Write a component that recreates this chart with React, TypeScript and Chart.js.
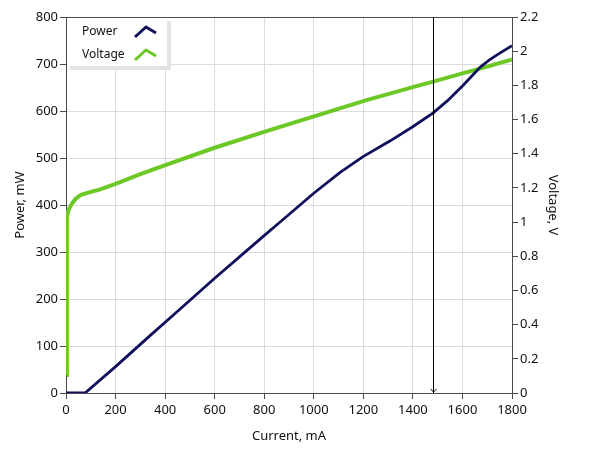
import { useEffect, useRef } from "react";
import { Chart, registerables } from "chart.js";

Chart.register(...registerables);

// ---- data ----
const powerCurrent = [0, 77, 200, 337, 438, 600, 802, 869, 1000, 1105, 1199, 1307, 1401, 1482, 1540, 1603, 1671, 1705, 1738, 1800];
const powerValues = [0, 0, 56, 121, 168, 244, 336, 366, 425, 469, 503, 536, 567, 596, 622, 655, 693, 707, 719, 739];

const voltageCurrent = [3, 3, 4, 8, 15, 25, 40, 61, 100, 135, 200, 300, 398, 600, 809, 1066, 1213, 1400, 1482, 1600, 1700, 1800];
const voltageValues = [0.105, 0.6, 1.03, 1.06, 1.085, 1.11, 1.138, 1.16, 1.177, 1.19, 1.224, 1.28, 1.332, 1.435, 1.532, 1.648, 1.714, 1.79, 1.822, 1.87, 1.91, 1.952];

const seriesNames = ["Power", "Voltage"];
const axisTitles = { x: "Current, mA", y: "Power, mW", y1: "Voltage, V" };
const cursorCurrent = 1480;

// ---- styles ----
const POWER_COLOR = "#0f0f5c";
const VOLTAGE_COLOR = "#6cc824";
const AXIS_COLOR = "#4a4a4a";
const GRID_COLOR = "#dcdcdc";
const TEXT_COLOR = "#111111";
const FONT = "'Noto Sans', 'DejaVu Sans', sans-serif";

const decorPlugin = {
  id: "decor",
  beforeDatasetsDraw(chart: any) {
    const { ctx, chartArea: a } = chart;
    ctx.save();
    ctx.strokeStyle = AXIS_COLOR;
    ctx.lineWidth = 1;
    ctx.beginPath();
    ctx.moveTo(a.left, Math.round(a.top) + 0.5);
    ctx.lineTo(a.right, Math.round(a.top) + 0.5);
    ctx.stroke();
    ctx.restore();
  },
  afterDatasetsDraw(chart: any) {
    const { ctx, chartArea: a } = chart;
    const xs = chart.scales.x;
    ctx.save();
    // cursor line
    const cx = Math.round(xs.getPixelForValue(cursorCurrent)) + 0.5;
    ctx.strokeStyle = "#000";
    ctx.lineWidth = 1;
    ctx.beginPath();
    ctx.moveTo(cx, a.top);
    ctx.lineTo(cx, a.bottom);
    ctx.stroke();
    ctx.beginPath();
    ctx.moveTo(cx - 3, a.bottom - 4);
    ctx.lineTo(cx, a.bottom - 1);
    ctx.lineTo(cx + 3, a.bottom - 4);
    ctx.stroke();

    // legend
    const lx = a.left + 1;
    const ly = a.top + 1;
    ctx.fillStyle = "#e3e3e3";
    ctx.fillRect(lx + 3, ly + 3, 101, 49);
    ctx.fillStyle = "#ffffff";
    ctx.fillRect(lx, ly, 100, 48);
    ctx.font = `12px ${FONT}`;
    ctx.textBaseline = "middle";
    ctx.textAlign = "left";
    const colors = [POWER_COLOR, VOLTAGE_COLOR];
    seriesNames.forEach((name, i) => {
      const cy = ly + 14 + i * 23;
      ctx.fillStyle = TEXT_COLOR;
      ctx.fillText(name, lx + 15, cy);
      ctx.strokeStyle = colors[i];
      ctx.lineWidth = 3;
      ctx.lineJoin = "miter";
      ctx.beginPath();
      ctx.moveTo(lx + 68, cy + 5);
      ctx.lineTo(lx + 79, cy - 5);
      ctx.lineTo(lx + 89, cy + 1);
      ctx.stroke();
    });
    ctx.restore();
  },
};

export default function App() {
  const ref = useRef<HTMLCanvasElement>(null);

  useEffect(() => {
    document.body.style.margin = "0";
    const canvas = ref.current;
    if (!canvas) return;

    const tickFont = { family: FONT, size: 13 };
    const titleFont = { family: FONT, size: 13 };
    const plain = (v: any) => String(Number(Number(v).toFixed(1)));

    const chart = new Chart(canvas, {
      type: "line",
      data: {
        datasets: [
          {
            label: seriesNames[0],
            data: powerCurrent.map((x, i) => ({ x, y: powerValues[i] })),
            borderColor: POWER_COLOR,
            backgroundColor: POWER_COLOR,
            borderWidth: 2.8,
            pointRadius: 0,
            tension: 0,
            yAxisID: "y",
          },
          {
            label: seriesNames[1],
            data: voltageCurrent.map((x, i) => ({ x, y: voltageValues[i] })),
            borderColor: VOLTAGE_COLOR,
            backgroundColor: VOLTAGE_COLOR,
            borderWidth: 4,
            pointRadius: 0,
            tension: 0,
            yAxisID: "y1",
          },
        ],
      },
      options: {
        animation: false,
        responsive: false,
        layout: { padding: { top: 17, left: 0, right: 0, bottom: 0 } },
        plugins: {
          legend: { display: false },
          tooltip: { enabled: false },
        },
        scales: {
          x: {
            type: "linear",
            min: 0,
            max: 1800,
            ticks: { stepSize: 200, font: tickFont, color: TEXT_COLOR, padding: 3, maxRotation: 0, callback: plain },
            grid: { color: GRID_COLOR, tickColor: AXIS_COLOR, tickLength: 6 },
            border: { color: AXIS_COLOR, width: 1 },
            title: { display: true, text: axisTitles.x, font: titleFont, color: TEXT_COLOR, padding: { top: 0, bottom: 12 } },
            afterFit: (s: any) => {
              s.height = 63;
            },
          },
          y: {
            type: "linear",
            position: "left",
            min: 0,
            max: 800,
            ticks: { stepSize: 100, font: tickFont, color: TEXT_COLOR, padding: 2, callback: plain },
            grid: { color: GRID_COLOR, tickColor: AXIS_COLOR, tickLength: 6 },
            border: { color: AXIS_COLOR, width: 1 },
            title: { display: true, text: axisTitles.y, font: titleFont, color: TEXT_COLOR, padding: { top: 12, bottom: 0 } },
            afterFit: (s: any) => {
              s.width = 66;
            },
          },
          y1: {
            type: "linear",
            position: "right",
            min: 0,
            max: 2.2,
            ticks: { stepSize: 0.2, font: tickFont, color: TEXT_COLOR, padding: 2, callback: plain },
            grid: { drawOnChartArea: false, tickColor: AXIS_COLOR, tickLength: 6 },
            border: { color: AXIS_COLOR, width: 1 },
            title: { display: true, text: axisTitles.y1, font: titleFont, color: TEXT_COLOR, padding: { top: 28, bottom: 0 } },
            afterFit: (s: any) => {
              s.width = 77;
            },
          },
        },
      },
      plugins: [decorPlugin],
    });

    return () => chart.destroy();
  }, []);

  return (
    <div style={{ position: "relative", width: 589, height: 456, background: "#fff" }}>
      <canvas ref={ref} width={589} height={456} style={{ display: "block", width: 589, height: 456 }} />
    </div>
  );
}
